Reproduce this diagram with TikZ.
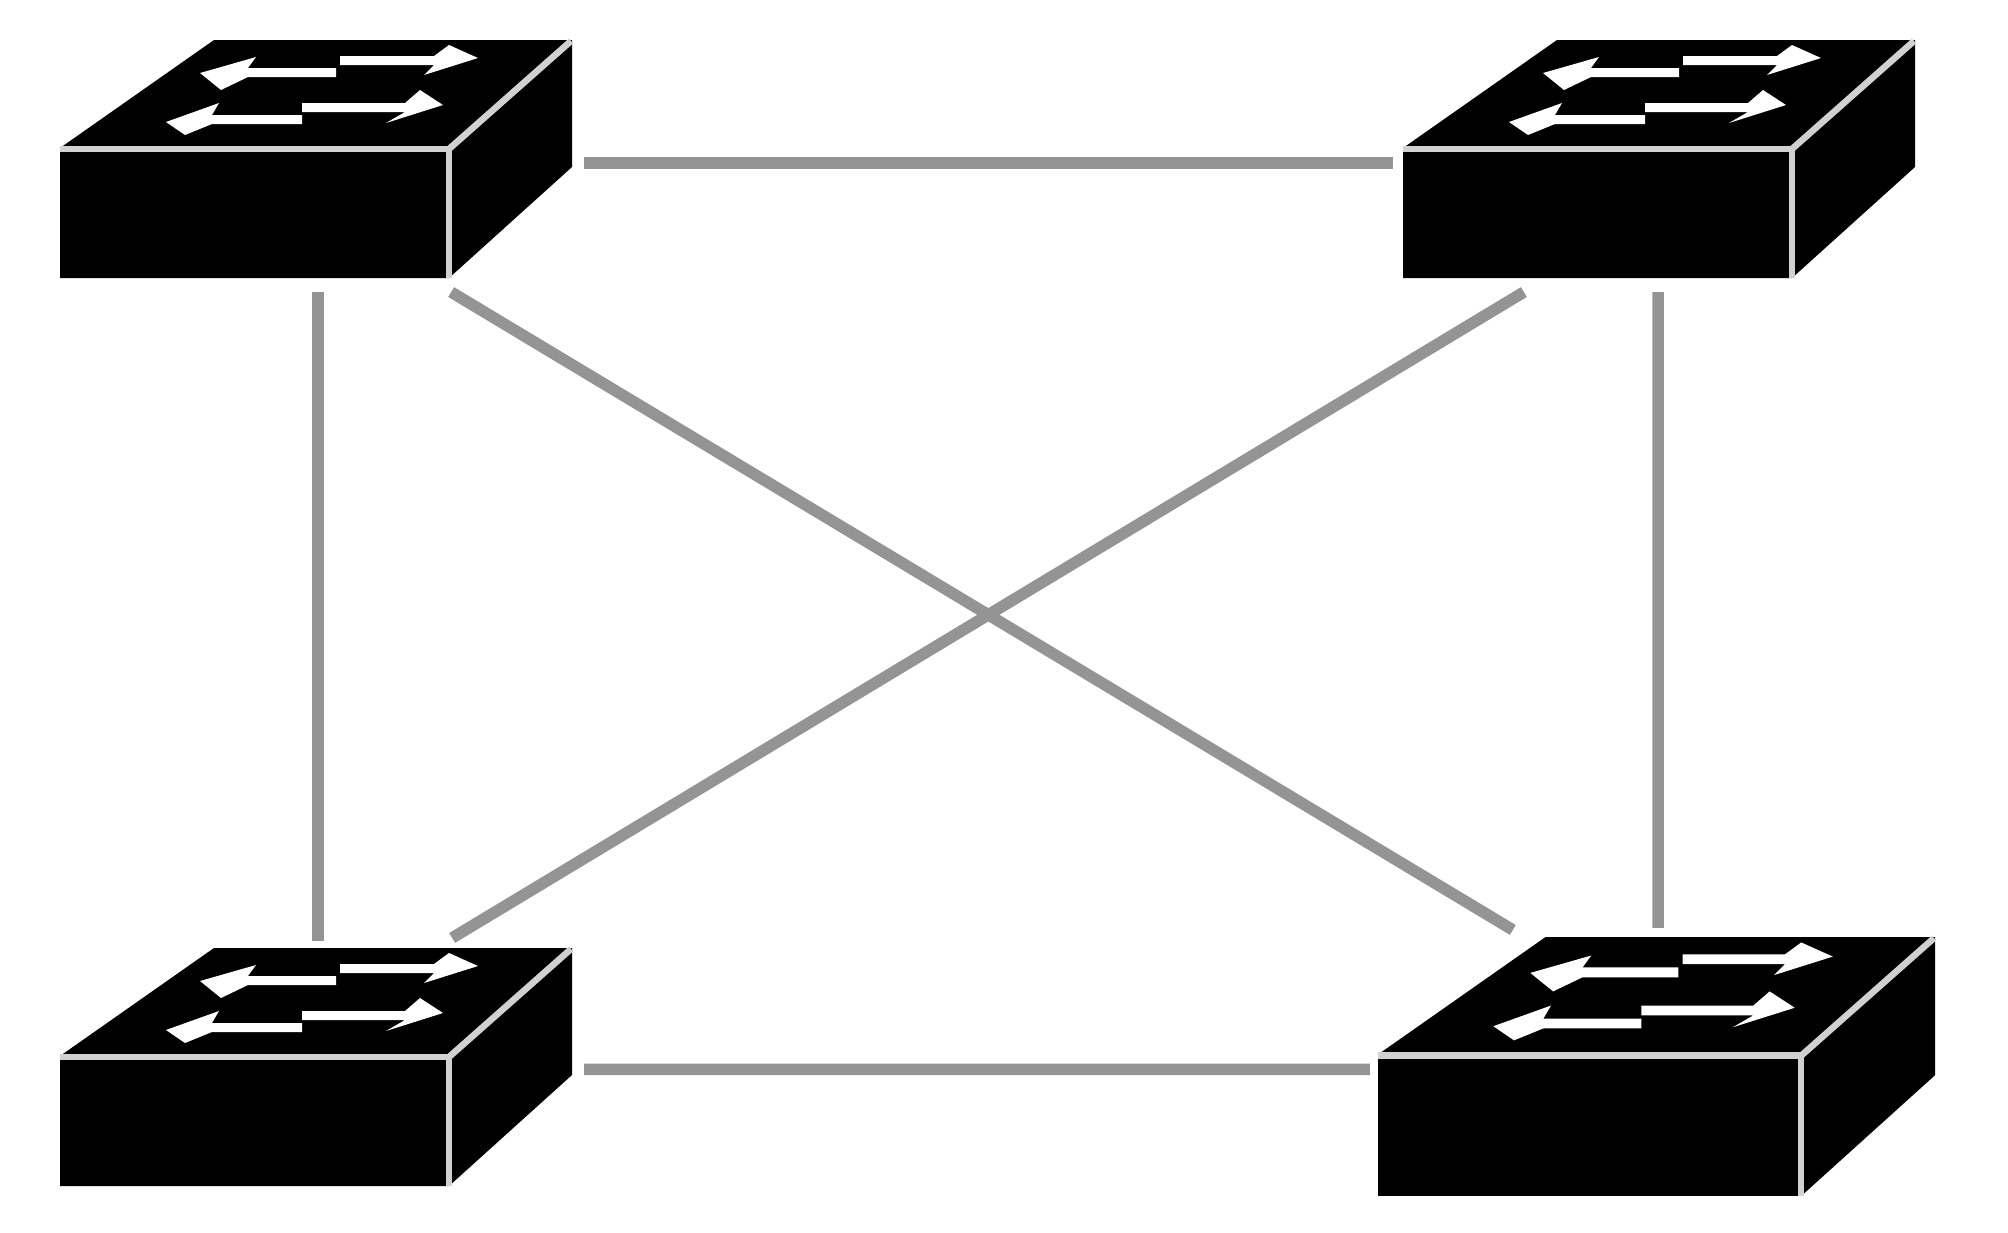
\documentclass[tikz,border=0pt]{standalone}
\usepackage{tikz}

\definecolor{linkgray}{gray}{0.58}
\definecolor{rimgray}{gray}{0.82}

% switch box, drawn in pixels from the top left corner of its outline
\newcommand{\switchbox}[4]{
  \begin{scope}[shift={(#2,#3)},scale=#4]
    \fill [black] (0,238) -- (0,108) -- (154,0) -- (512,0) -- (512,127) -- (389,238) -- cycle;
    \draw [rim] (0,109) -- (389,109) -- (389,238);
    \draw [rim] (389,109) -- (511,1);
    \fill [white] (140,33) -- (196,17) -- (188,28) -- (276,28) -- (276,37) -- (188,37) -- (161,50) -- cycle;
    \fill [white] (418,18) -- (389,5) -- (374,16) -- (280,16) -- (280,25) -- (374,25) -- (364,35) -- cycle;
    \fill [white] (106,82) -- (159,63) -- (152,75) -- (242,75) -- (242,84) -- (152,84) -- (125,95) -- cycle;
    \fill [white] (383,65) -- (360,50) -- (345,63) -- (242,63) -- (242,72) -- (345,72) -- (326,83) -- cycle;
    \node (#1) [switchnode] at (256,119) {};
  \end{scope}
}

\begin{document}
\begin{tikzpicture}[x=0.01cm,y=-0.01cm,
    rim/.style={draw=rimgray,line width=0.65mm},
    link/.style={draw=linkgray,line width=1.15mm},
    switchnode/.style={transform shape,minimum width=5.12cm,minimum height=2.38cm,inner sep=0pt,outer sep=0pt}]
  \useasboundingbox (0,0) rectangle (2008,1233);

  \switchbox{sw1}{60}{40}{1}
  \switchbox{sw2}{1403}{40}{1}
  \switchbox{sw3}{60}{948}{1}
  \switchbox{sw4}{1378}{937}{1.088}

  \path
    ([shift={(12,4)}]sw1.east) edge [link] ([shift={(-10,4)}]sw2.west)
    ([shift={(12,2.3)}]sw3.east) edge [link] ([shift={(-8,2.828)}]sw4.west)
    ([shift={(2,14)}]sw1.south) edge [link] ([shift={(2,-7)}]sw3.north)
    ([shift={(-1,14)}]sw2.south) edge [link] ([shift={(1.5,-9)}]sw4.north)
    ([shift={(-121,14)}]sw1.south east) edge [link] ([shift={(135,-7)}]sw4.north west)
    ([shift={(121,14)}]sw2.south west) edge [link] ([shift={(-120,-10)}]sw3.north east);
\end{tikzpicture}
\end{document}
